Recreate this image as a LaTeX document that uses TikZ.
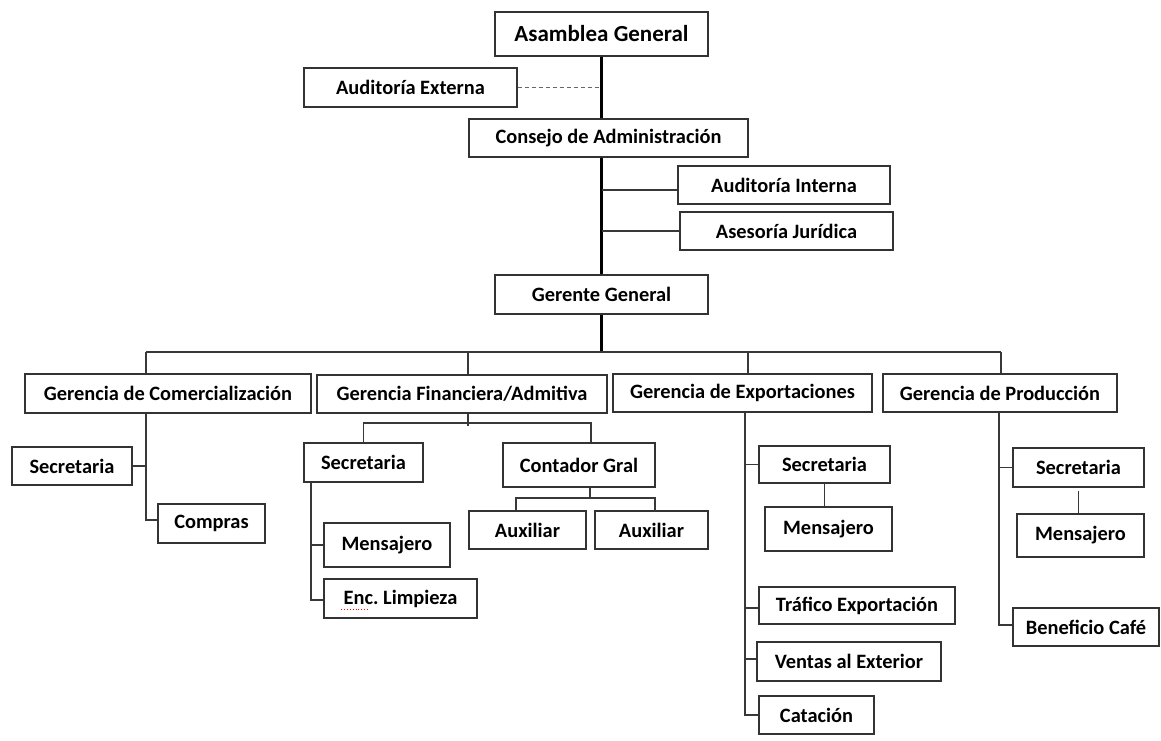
\documentclass[tikz,border=0pt]{standalone}
\usepackage{fontspec}
\setmainfont{Carlito}
\begin{document}
\begin{tikzpicture}[x=1pt,y=-1pt,
  box/.style={draw=black!80, line width=1.3pt, fill=white, inner sep=0pt,
    align=center, font=\fontsize{20.4}{23}\selectfont\bfseries},
  bigbox/.style={box, font=\fontsize{23}{26}\selectfont\bfseries},
  trunk/.style={line width=2.6pt, black},
  conn/.style={line width=1.2pt, black!78},
  dashconn/.style={line width=1.2pt, black!60, dash pattern=on 4pt off 3pt}]
\useasboundingbox (0,0) rectangle (1161,740);
% top
\node[bigbox, minimum width=213pt, minimum height=44pt] (ag) at (601.5,34) {Asamblea General};
\node[box, minimum width=213pt, minimum height=39pt] (ae) at (410.5,87.5) {Auditoría Externa};
\node[box, minimum width=279pt, minimum height=38pt] (ca) at (608.5,138) {Consejo de Administración};
\node[box, minimum width=212pt, minimum height=38pt] (ai) at (784,185) {Auditoría Interna};
\node[box, minimum width=213pt, minimum height=38pt] (aj) at (786.5,231) {Asesoría Jurídica};
\node[box, minimum width=213pt, minimum height=39pt] (gg) at (601.5,294.5) {Gerente General};
% gerencias
\node[box, minimum width=286pt, minimum height=39pt] (gc) at (168,393.5) {Gerencia de Comercialización};
\node[box, minimum width=290pt, minimum height=38pt] (gf) at (462,394) {Gerencia Financiera/Admitiva};
\node[box, minimum width=259pt, minimum height=38pt] (ge) at (742.5,393) {Gerencia de Exportaciones};
\node[box, minimum width=234pt, minimum height=38pt] (gp) at (1000,393) {Gerencia de Producción};
% comercializacion
\node[box, minimum width=120pt, minimum height=38pt] (sc) at (72,466) {Secretaria};
\node[box, minimum width=107pt, minimum height=39pt] (co) at (211.5,523.5) {Compras};
% financiera
\node[box, minimum width=119pt, minimum height=39pt] (sf) at (363.5,462.5) {Secretaria};
\node[box, minimum width=152pt, minimum height=44pt] (cg) at (579,465) {Contador Gral};
\node[box, minimum width=126pt, minimum height=44pt] (mf) at (387,545) {Mensajero};
\node[box, minimum width=153pt, minimum height=39pt] (el) at (400.5,598.5) {Enc.\ Limpieza};
\node[box, minimum width=117pt, minimum height=38pt] (a1) at (527.5,530) {Auxiliar};
\node[box, minimum width=113pt, minimum height=38pt] (a2) at (651.5,530) {Auxiliar};
% exportaciones
\node[box, minimum width=131pt, minimum height=37pt] (se) at (824.5,464.5) {Secretaria};
\node[box, minimum width=127pt, minimum height=44pt] (me) at (828.5,529) {Mensajero};
\node[box, minimum width=196pt, minimum height=37pt] (te) at (857,605.5) {Tráfico Exportación};
\node[box, minimum width=184pt, minimum height=39pt] (ve) at (849,661.5) {Ventas al Exterior};
\node[box, minimum width=115pt, minimum height=38pt] (ct) at (816.5,715) {Catación};
% produccion
\node[box, minimum width=131pt, minimum height=39pt] (sp) at (1078.5,467.5) {Secretaria};
\node[box, minimum width=127pt, minimum height=43pt] (mp) at (1080.5,535.5) {Mensajero};
\node[box, minimum width=146pt, minimum height=38pt] (bc) at (1086,627) {Beneficio Café};

% top connectors
\draw[trunk] (ag.south) -- (ag.south |- ca.north);
\draw[dashconn] (ae.east) -- (ae.east -| ag.south);
\draw[trunk] (ca.south -| gg.north) -- (gg.north);
\draw[conn] ([yshift=-5pt]ai.west -| gg.north) -- ([yshift=-5pt]ai.west);
\draw[conn] (aj.west -| gg.north) -- (aj.west);
% bus
\coordinate (bus) at (599,352);
\coordinate (dc) at (146,352);
\coordinate (df) at (468,352);
\coordinate (de) at (748,352);
\coordinate (dp) at (1001,352);
\draw[trunk] (gg.south) -- (gg.south |- bus);
\draw[conn] (dc) -- (dp);
\draw[conn] (dc) -- (dc |- gc.north);
\draw[conn] (df) -- (df |- gf.north);
\draw[conn] (de) -- (de |- ge.north);
\draw[conn] (dp) -- (dp |- gp.north);
% comercializacion
\draw[conn] (dc |- gc.south) -- ([yshift=3.5pt]dc |- co.west) -- ([yshift=3.5pt]co.west);
\draw[conn] (sc.east) -- (sc.east -| dc);
% financiera
\coordinate (fbus) at (468,423);
\draw[conn] (fbus |- gf.south) -- ([yshift=-3pt]fbus);
\draw[conn] (sf.north) |- (fbus) -| ([xshift=12pt]cg.north);
\coordinate (ft) at (311,482);
\draw[conn] (ft |- sf.south) -- ([yshift=-1.5pt]ft |- el.west) -- ([yshift=-1.5pt]el.west);
\draw[conn] (ft |- mf.west) -- (mf.west);
\coordinate (cbus) at (590,498);
\draw[conn] ([xshift=11pt]cg.south) -- (cbus);
\draw[conn] (cbus) -| ([xshift=-11.5pt]a1.north);
\draw[conn] (cbus) -| ([xshift=3.5pt,yshift=-2pt]a2.north);
\draw[red, dotted, line width=0.9pt] (341,609) -- (369,609);
% exportaciones
\coordinate (et) at (745,412);
\draw[conn] (et |- ge.south) -- (et |- ct.west) -- (ct.west);
\draw[conn] (et |- se.west) -- (se.west);
\draw[conn] ([yshift=-2.5pt]et |- te.west) -- ([yshift=-2.5pt]te.west);
\draw[conn] ([yshift=2.5pt]et |- ve.west) -- ([yshift=2.5pt]ve.west);
\draw[conn] (se.south) -- (se.south |- me.north);
% produccion
\coordinate (pt) at (999,412);
\draw[conn] (pt |- gp.south) -- ([yshift=2pt]pt |- bc.west) -- ([yshift=2pt]bc.west);
\draw[conn] (pt |- sp.west) -- (sp.west);
\draw[conn] ([yshift=-3pt]sp.south) -- (sp.south |- mp.north);
\end{tikzpicture}
\end{document}
